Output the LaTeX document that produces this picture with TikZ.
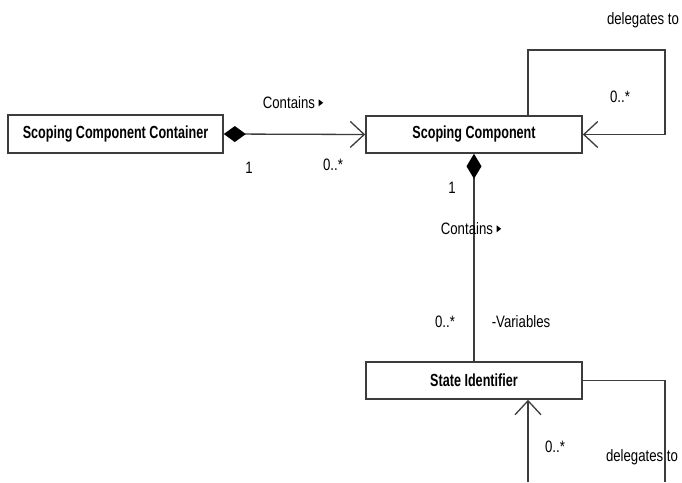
\documentclass[tikz,border=0pt]{standalone}
\usepackage{fontspec}
\setmainfont{Liberation Sans}[FakeStretch=0.8]
\newfontfamily\clsfont{Liberation Sans}[FakeStretch=0.72]
\usetikzlibrary{arrows.meta}
\definecolor{ln}{HTML}{3C3C3C}
\begin{document}
\begin{tikzpicture}[x=1pt,y=-1pt,
  cls/.style={draw=ln, line width=1.6pt, fill=white, minimum width=216pt, minimum height=37pt, inner sep=0pt, font=\clsfont\fontsize{17.5}{19}\selectfont\bfseries},
  assoc/.style={draw=ln, line width=1.3pt},
  lbl/.style={font=\fontsize{16.5}{18}\selectfont, text=black, inner sep=1pt},
  barb/.style={-{Straight Barb[length=14pt,width=26pt,line width=1.3pt]}}
]
\useasboundingbox (0,0) rectangle (682,482);
\fill[white] (0,0) rectangle (682,482);

\node[cls, minimum width=215pt, minimum height=38pt] (ssc) at (115.5,134) {Scoping Component Container};
\node[cls] (sc) at (474,134.5) {Scoping Component};
\node[cls] (si) at (474,380.5) {State Identifier};

\coordinate (lt) at (528,50);
\coordinate (rt) at (665,50);
\coordinate (b1) at (528,482);
\coordinate (b2) at (665,482);

\draw[assoc, {Diamond[length=22pt,width=16pt,fill=black,color=black]}-{Straight Barb[length=14pt,width=26pt,line width=1.3pt]}] (ssc.east) -- (sc.west);
\draw[assoc, barb] (sc.north -| lt) -- (lt) -- (rt) |- (sc.east);
\draw[assoc, {Diamond[length=25pt,width=15pt,fill=black,color=black]}-] (sc.south) -- (si.north);
\draw[assoc, barb] (b1) -- (si.south -| b1);
\draw[assoc] (si.east) -| (b2);

\node[lbl] (l1) at (293,103) {Contains \raisebox{0.3ex}{\tikz\fill (0,0) -- (0,7pt) -- (4.5pt,3.5pt) -- cycle;}};
\node[lbl] (l2) at (249,168) {1};
\node[lbl] (l3) at (333,165) {0..*};
\node[lbl] (l4) at (643,20) {delegates to};
\node[lbl] (l5) at (620,97) {0..*};
\node[lbl] (l6) at (452,188) {1};
\node[lbl] (l7) at (471,229) {Contains \raisebox{0.3ex}{\tikz\fill (0,0) -- (0,7pt) -- (4.5pt,3.5pt) -- cycle;}};
\node[lbl] (l8) at (445,322) {0..*};
\node[lbl] (l9) at (521,322) {-Variables};
\node[lbl] (l10) at (555,447) {0..*};
\node[lbl] (l11) at (642,457) {delegates to};
\end{tikzpicture}
\end{document}
